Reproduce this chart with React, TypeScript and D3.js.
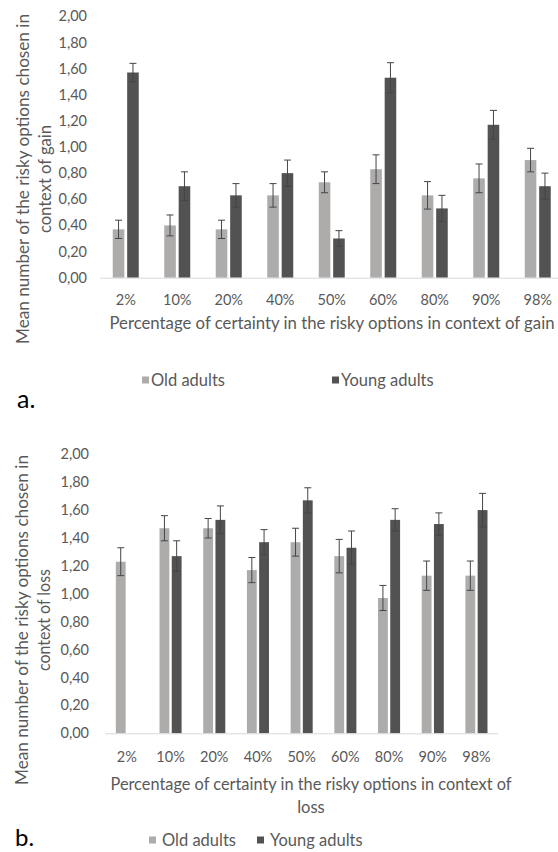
import React from "react";
import * as d3 from "d3";

const categories = ["2%", "10%", "20%", "40%", "50%", "60%", "80%", "90%", "98%"];
const yTicks = [0, 0.2, 0.4, 0.6, 0.8, 1.0, 1.2, 1.4, 1.6, 1.8, 2.0];

const gainOld = [0.37, 0.4, 0.37, 0.63, 0.73, 0.83, 0.63, 0.76, 0.9];
const gainOldErr = [0.07, 0.08, 0.07, 0.09, 0.08, 0.11, 0.105, 0.11, 0.09];
const gainYoung = [1.57, 0.7, 0.63, 0.8, 0.3, 1.53, 0.53, 1.17, 0.7];
const gainYoungErr = [0.07, 0.11, 0.09, 0.1, 0.06, 0.115, 0.1, 0.11, 0.1];

const lossOld = [1.23, 1.47, 1.47, 1.17, 1.37, 1.27, 0.97, 1.13, 1.13];
const lossOldErr = [0.1, 0.09, 0.07, 0.09, 0.1, 0.12, 0.09, 0.105, 0.105];
const lossYoung: (number | null)[] = [null, 1.27, 1.53, 1.37, 1.67, 1.33, 1.53, 1.5, 1.6];
const lossYoungErr = [0, 0.11, 0.1, 0.09, 0.09, 0.12, 0.08, 0.08, 0.12];

const seriesNames = ["Old adults", "Young adults"];
const OLD = "#AEABAB";
const YOUNG = "#525252";
const TEXT = "#595959";
const FONT = "Lato, 'Open Sans', sans-serif";

const fmt = (v: number) => v.toFixed(2).replace(".", ",");

type PanelProps = {
  xRange: [number, number];
  yRange: [number, number];
  old: (number | null)[];
  oldErr: number[];
  young: (number | null)[];
  youngErr: number[];
  tickRight: number;
  xLabelY: number;
};

function Panel({ xRange, yRange, old, oldErr, young, youngErr, tickRight, xLabelY }: PanelProps) {
  const x = d3.scaleBand<string>().domain(categories).range(xRange).padding(0);
  const y = d3.scaleLinear().domain([0, 2]).range(yRange);
  const bw = x.bandwidth();
  const w = bw * 0.225;
  const gap = bw * 0.055;
  const cap = 3.5;

  const bar = (vals: (number | null)[], errs: number[], color: string, side: number, key: string) =>
    categories.map((c, i) => {
      const v = vals[i];
      if (v == null) return null;
      const cx = (x(c) as number) + bw / 2;
      const bx = side < 0 ? cx - gap / 2 - w : cx + gap / 2;
      const mid = bx + w / 2;
      const e = errs[i];
      return (
        <g key={key + i}>
          <rect x={bx} y={y(v)} width={w} height={y(0) - y(v)} fill={color} />
          <line x1={mid} x2={mid} y1={y(v + e)} y2={y(v - e)} stroke="#454545" strokeWidth={1} />
          <line x1={mid - cap} x2={mid + cap} y1={y(v + e)} y2={y(v + e)} stroke="#454545" strokeWidth={1} />
          <line x1={mid - cap} x2={mid + cap} y1={y(v - e)} y2={y(v - e)} stroke="#454545" strokeWidth={1} />
        </g>
      );
    });

  return (
    <g>
      {yTicks.map((t) => (
        <text key={t} x={tickRight} y={y(t)} dy="0.35em" textAnchor="end" fontSize={14.5} fill={TEXT} fontFamily={FONT}>
          {fmt(t)}
        </text>
      ))}
      {bar(old, oldErr, OLD, -1, "o")}
      {bar(young, youngErr, YOUNG, 1, "y")}
      <line x1={xRange[0]} x2={xRange[1]} y1={y(0) + 0.5} y2={y(0) + 0.5} stroke="#D9D9D9" strokeWidth={1} />
      {categories.map((c) => (
        <text key={c} x={(x(c) as number) + bw / 2} y={xLabelY} textAnchor="middle" fontSize={14.5} fill={TEXT} fontFamily={FONT}>
          {c}
        </text>
      ))}
    </g>
  );
}

function YTitle({ cy, lines, xs, lengths }: { cy: number; lines: string[]; xs: number[]; lengths: number[] }) {
  return (
    <g>
      {lines.map((l, i) => (
        <text
          key={i}
          transform={`translate(${xs[i]},${cy}) rotate(-90)`}
          textAnchor="middle"
          fontSize={16.5}
          fill={TEXT}
          fontFamily={FONT}
          textLength={lengths[i]}
          lengthAdjust="spacingAndGlyphs"
        >
          {l}
        </text>
      ))}
    </g>
  );
}

function Legend({ y, items }: { y: number; items: { sx: number; tx: number; color: string; label: string }[] }) {
  return (
    <g>
      {items.map((it) => (
        <g key={it.label}>
          <rect x={it.sx} y={y - 3.5} width={7} height={7} fill={it.color} />
          <text x={it.tx} y={y} dy="0.35em" fontSize={16.5} fill={TEXT} fontFamily={FONT}>
            {it.label}
          </text>
        </g>
      ))}
    </g>
  );
}

export default function App() {
  return (
    <svg width={558} height={852} style={{ position: "absolute", left: 0, top: 0, background: "#fff" }}>
      {/* Panel a */}
      <YTitle
        cy={179}
        lines={["Mean number of the risky options chosen in", "context of gain"]}
        xs={[29, 51]}
        lengths={[330, 108]}
      />
      <Panel
        xRange={[100, 563.5]}
        yRange={[277.7, 16.3]}
        old={gainOld}
        oldErr={gainOldErr}
        young={gainYoung}
        youngErr={gainYoungErr}
        tickRight={87}
        xLabelY={305}
      />
      <text x={332} y={329} textAnchor="middle" fontSize={16.5} fill={TEXT} fontFamily={FONT} textLength={445} lengthAdjust="spacingAndGlyphs">
        Percentage of certainty in the risky options in context of gain
      </text>
      <Legend
        y={380}
        items={[
          { sx: 142, tx: 151, color: OLD, label: seriesNames[0] },
          { sx: 332, tx: 341, color: YOUNG, label: seriesNames[1] },
        ]}
      />
      <text x={17} y={408} fontSize={25} fill="#000" fontFamily={FONT}>
        a.
      </text>

      {/* Panel b */}
      <YTitle
        cy={620}
        lines={["Mean number of the risky options chosen in", "context of loss"]}
        xs={[28, 50]}
        lengths={[330, 102]}
      />
      <Panel
        xRange={[105, 498.3]}
        yRange={[733.3, 454.3]}
        old={lossOld}
        oldErr={lossOldErr}
        young={lossYoung}
        youngErr={lossYoungErr}
        tickRight={89}
        xLabelY={762}
      />
      <text x={311} y={790} textAnchor="middle" fontSize={16.5} fill={TEXT} fontFamily={FONT} textLength={401} lengthAdjust="spacingAndGlyphs">
        Percentage of certainty in the risky options in context of
      </text>
      <text x={311} y={813} textAnchor="middle" fontSize={16.5} fill={TEXT} fontFamily={FONT}>
        loss
      </text>
      <Legend
        y={840}
        items={[
          { sx: 149, tx: 162, color: OLD, label: seriesNames[0] },
          { sx: 257, tx: 270, color: YOUNG, label: seriesNames[1] },
        ]}
      />
      <text x={15} y={846} fontSize={24} fill="#000" fontFamily={FONT}>
        b.
      </text>
    </svg>
  );
}
